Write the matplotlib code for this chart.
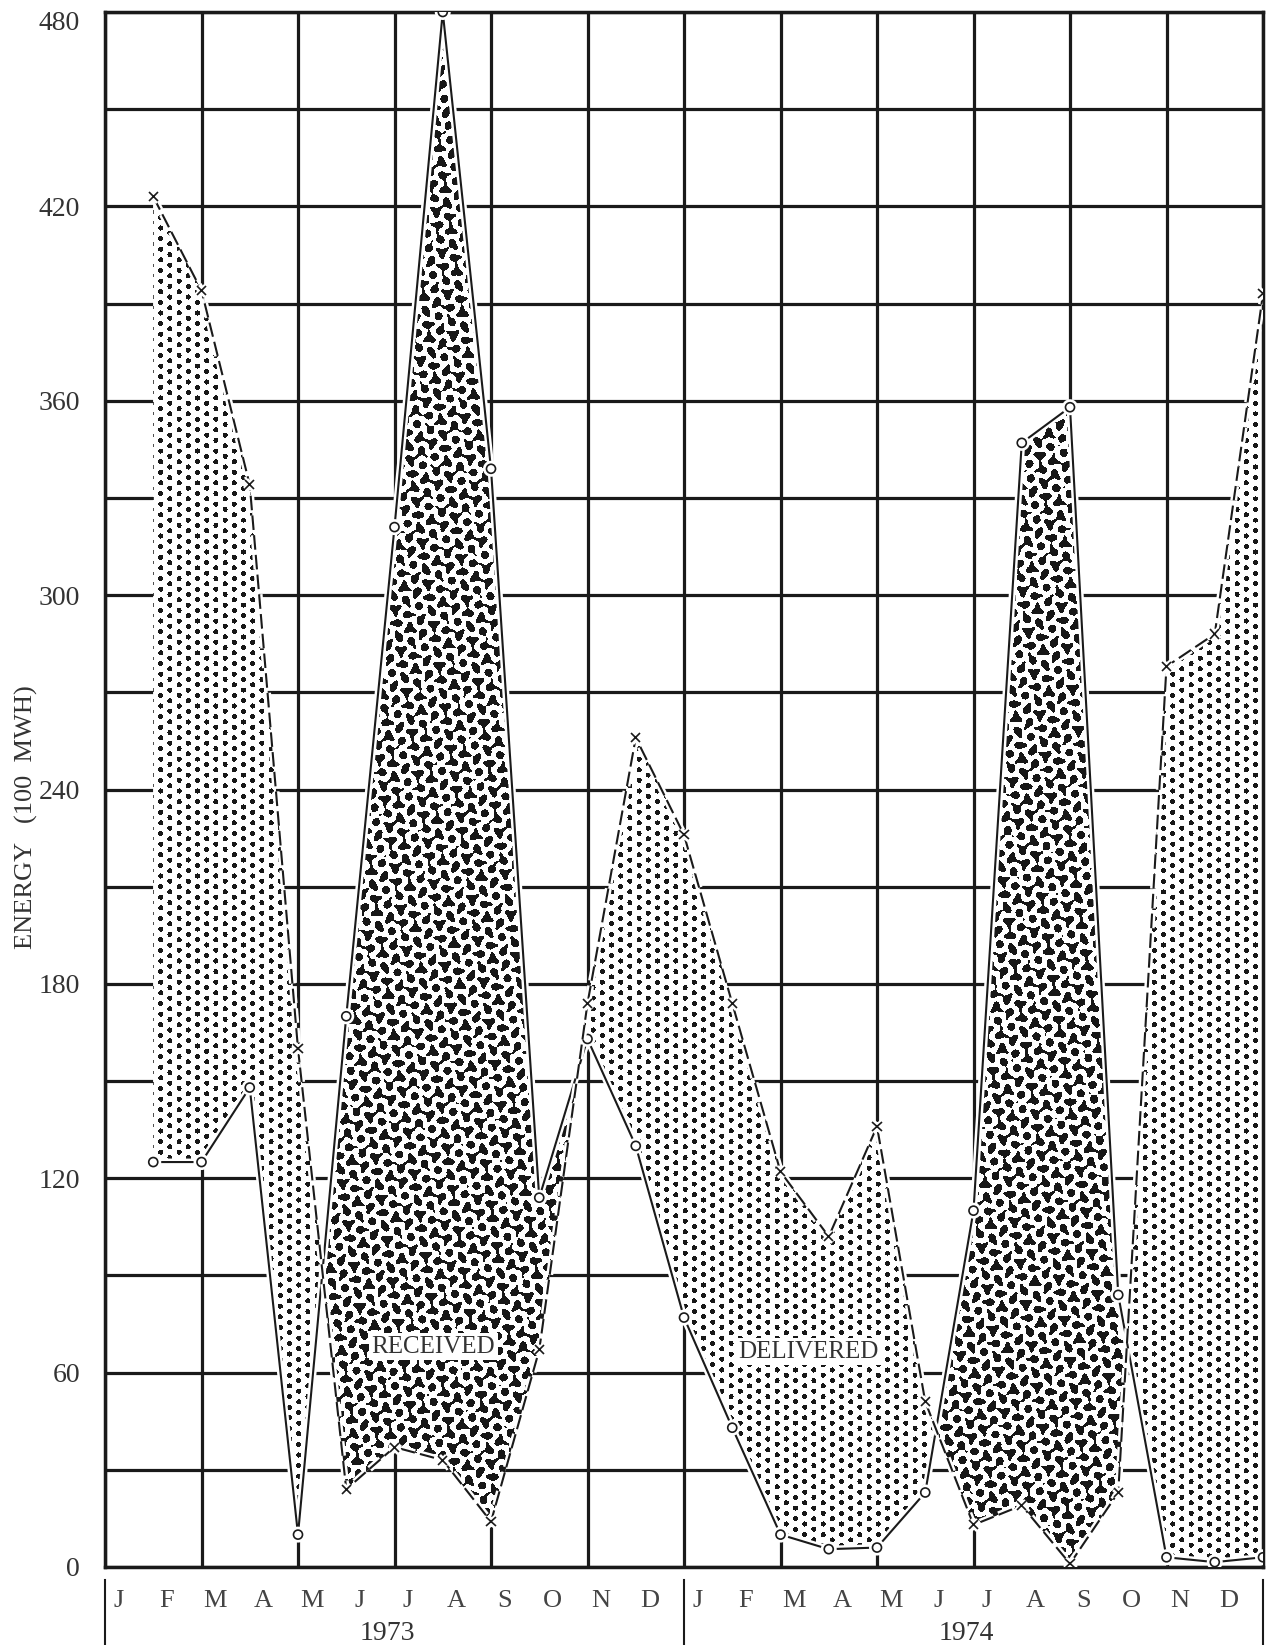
import matplotlib
matplotlib.use("Agg")
import numpy as np
import matplotlib.pyplot as plt
from matplotlib import patheffects as pe
from matplotlib.path import Path
from matplotlib.transforms import ScaledTranslation

# monthly energy, Jan 1973 .. Dec 1974 (100 MWH)
months = ["J", "F", "M", "A", "M", "J", "J", "A", "S", "O", "N", "D"] * 2
years = ["1973", "1974"]
received = [125, 125, 148, 10, 170, 321, 480, 339, 114, 163, 130, 77,
            43, 10, 5.5, 6, 23, 110, 347, 358, 84, 3, 1.5, 3]
delivered = [423, 394, 334, 160, 24, 37, 33, 14, 67, 174, 256, 226,
             174, 122, 102, 136, 51, 13, 19, 1, 23, 278, 288, 393]
y_ticks = [0, 60, 120, 180, 240, 300, 360, 420, 480]

plt.rcParams["font.family"] = ["Liberation Serif", "DejaVu Serif"]

ink = "#1a1a1a"
AX_W, AX_H = 1158, 1555


def screen(w, h, layers, black_share):
    """Black/white screen tone made of overlaid hex lattices (pixel grid)."""
    yy, xx = np.mgrid[0:h, 0:w].astype(float)
    f = np.zeros_like(xx)
    for period, rot, amp in layers:
        k = 2 * np.pi / period
        for a in (0, 120, 240):
            t = np.radians(a + rot)
            f += amp * np.cos(k * (xx * np.cos(t) + yy * np.sin(t)))
    return (f > np.quantile(f, 1 - black_share)).astype(float)


def textured_fill(ax, where, tone):
    poly = ax.fill_between(x, received, delivered, where=where, interpolate=True,
                           facecolor="white", linewidth=0, zorder=2)
    im = ax.imshow(tone, extent=(0, 24, 0, 480), origin="lower", aspect="auto",
                   cmap="gray_r", vmin=0, vmax=1.1, interpolation="nearest",
                   zorder=2.5)
    im.set_clip_path(Path.make_compound_path(*poly.get_paths()),
                     transform=ax.transData)


fig = plt.figure(figsize=(12.7, 16.45), dpi=100)
ax = fig.add_axes([105 / 1270, 78 / 1645, AX_W / 1270, AX_H / 1645])

x = list(range(1, len(received) + 1))

# dotted where more is delivered, mottled where more is received
more_out = [d >= r for r, d in zip(received, delivered)]
more_in = [r >= d for r, d in zip(received, delivered)]
textured_fill(ax, more_out, screen(AX_W, AX_H, [(9.2, 0, 1.0)], 0.21))
textured_fill(ax, more_in, screen(AX_W, AX_H, [(12.0, 8, 1.0), (8.3, 31, 0.55)], 0.43))

halo = [pe.Stroke(linewidth=5, foreground="white"), pe.Normal()]
ax.plot(x, received, color=ink, lw=1.5, marker="o", ms=6.5, mfc="white",
        mec=ink, mew=1.2, zorder=4, path_effects=halo)
ax.plot(x, delivered, color=ink, lw=1.5, ls=(0, (7, 2.5)), marker="x", ms=6.5,
        mew=1.2, zorder=4, path_effects=halo)

ax.text(6.8, 68, "RECEIVED", fontsize=18, color="#333", ha="center", va="center",
        zorder=5, bbox=dict(facecolor="white", edgecolor="none", pad=2))
ax.text(14.57, 66.5, "DELIVERED", fontsize=18, color="#333", ha="center", va="center",
        zorder=5, bbox=dict(facecolor="white", edgecolor="none", pad=2))

ax.set_xlim(0, 24)
ax.set_ylim(0, 480)
ax.set_xticks(range(0, 25, 2))
ax.set_xticklabels([])
ax.set_yticks(y_ticks)
ax.set_yticks(range(0, 481, 30), minor=True)
ax.set_yticklabels([str(v) for v in y_ticks], fontsize=20, color="#333")
ax.tick_params(which="both", length=0, pad=18)
# top label sits a little under its grid line, as in the original
top = ax.get_yticklabels()[-1]
top.set_transform(top.get_transform() + ScaledTranslation(0, -0.09, fig.dpi_scale_trans))
ax.set_axisbelow(True)
ax.grid(which="major", axis="x", color=ink, lw=2.3)
ax.grid(which="both", axis="y", color=ink, lw=2.3)
for s in ax.spines.values():
    s.set_linewidth(2.5)
    s.set_color(ink)

# month letters, year names and separators under the axis
xt = ax.get_xaxis_transform()
for i, m in enumerate(months):
    ax.text(i + 0.28, -0.022, m, transform=xt, fontsize=19, color="#444",
            ha="center", va="center")
for k, yr in enumerate(years):
    ax.text(12 * k + 5.85, -0.0425, yr, transform=xt, fontsize=20, color="#333",
            ha="center", va="center")
for xs in [0, 12, 24]:
    ax.plot([xs, xs], [-0.0084, -0.06], transform=xt, color=ink, lw=1.5,
            clip_on=False)

ax.text(-0.068, 0.482, "ENERGY   (100  MWH)", transform=ax.transAxes, rotation=90,
        fontsize=19, color="#333", ha="center", va="center")

fig.savefig("out.png", dpi=100)
